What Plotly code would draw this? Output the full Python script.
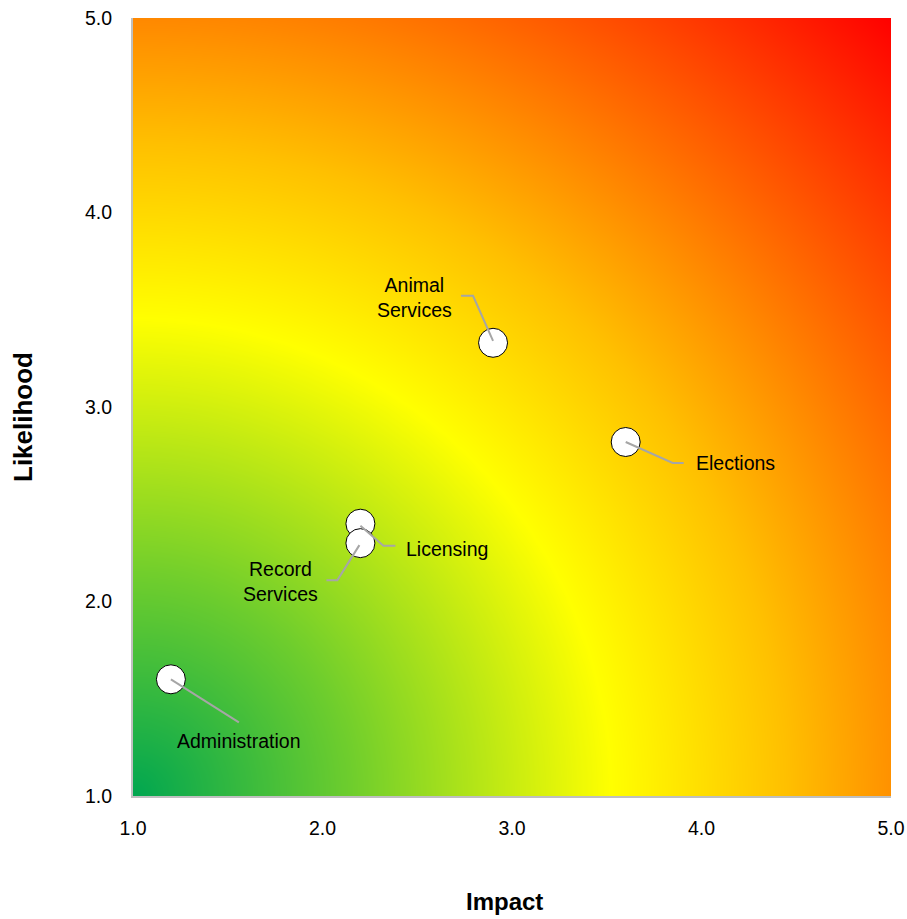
import numpy as np
import plotly.graph_objects as go

# ---- data ----
units = ["Administration", "Animal Services", "Elections", "Licensing", "Record Services"]
impact = [1.2, 2.9, 3.6, 2.2, 2.2]
likelihood = [1.6, 3.33, 2.82, 2.4, 2.3]
label_text = ["Administration", "Animal<br>Services", "Elections", "Licensing", "Record<br>Services"]
x_ticks = [1.0, 2.0, 3.0, 4.0, 5.0]
y_ticks = [1.0, 2.0, 3.0, 4.0, 5.0]

# ---- style: leader-line paths and label offsets in screen pixels (y down) ----
leader_paths = [
    [(0, 0), (68, 43)],
    [(0, -2), (-20, -47), (-32, -47)],
    [(0, 0), (47, 21), (58, 21)],
    [(0, 2), (23, 22), (35, 22)],
    [(-1, 2), (-23, 37), (-34, 37)],
]
label_offsets = [(68, 62, "center"), (-79, -45, "center"), (68, 21, "left"), (44, 25, "left"), (-80, 38, "center")]

W, H = 907, 919
ML, MR, MT, MB = 133, 16, 18, 123
PW, PH = W - ML - MR, H - MT - MB
XR, YR = (1.0, 5.0), (1.0, 5.0)
px_x = PW / (XR[1] - XR[0])
px_y = PH / (YR[1] - YR[0])

FONT = "Liberation Sans, Arial, sans-serif"

# background radial gradient (pixel-space distance from bottom-left corner)
gx = np.linspace(XR[0], XR[1], 241)
gy = np.linspace(YR[0], YR[1], 241)
GX, GY = np.meshgrid(gx, gy)
dist = np.sqrt(((GX - XR[0]) * px_x) ** 2 + ((GY - YR[0]) * px_y) ** 2)
dist = dist / dist.max()

colorscale = [
    [0.0, "rgb(0,166,80)"],
    [0.2, "rgb(110,205,45)"],
    [0.44, "rgb(255,255,0)"],
    [0.6, "rgb(255,192,0)"],
    [1.0, "rgb(255,0,0)"],
]

fig = go.Figure()
fig.add_trace(go.Heatmap(x=gx, y=gy, z=dist, colorscale=colorscale, zmin=0, zmax=1,
                         zsmooth="best", showscale=False, hoverinfo="skip"))

fig.add_trace(go.Scatter(x=impact, y=likelihood, mode="markers", text=units,
                         marker=dict(size=29, color="white", line=dict(color="black", width=1)),
                         hovertemplate="%{text}<br>Impact %{x}<br>Likelihood %{y}<extra></extra>",
                         showlegend=False))

for xi, yi, path in zip(impact, likelihood, leader_paths):
    lx = [xi + dx / px_x for dx, dy in path]
    ly = [yi - dy / px_y for dx, dy in path]
    fig.add_trace(go.Scatter(x=lx, y=ly, mode="lines", line=dict(color="#a6a6a6", width=2),
                             hoverinfo="skip", showlegend=False))

for xi, yi, txt, (ox, oy, anchor) in zip(impact, likelihood, label_text, label_offsets):
    fig.add_annotation(x=xi, y=yi, text=txt, showarrow=False, xshift=ox, yshift=-oy,
                       xanchor=anchor, yanchor="middle", align="center",
                       font=dict(family=FONT, size=19.5, color="black"))

fig.add_annotation(xref="paper", yref="paper", x=(504 - ML) / PW, y=-(901 - (MT + PH)) / PH,
                   text="<b>Impact</b>", showarrow=False, xanchor="center", yanchor="middle",
                   font=dict(family=FONT, size=24, color="black"))
fig.add_annotation(xref="paper", yref="paper", x=(23 - ML) / PW, y=((MT + PH) - 417) / PH,
                   text="<b>Likelihood</b>", showarrow=False, textangle=-90,
                   xanchor="center", yanchor="middle",
                   font=dict(family=FONT, size=26, color="black"))

axis_common = dict(showgrid=False, zeroline=False, showline=True, linecolor="#bfbfbf",
                   linewidth=2, ticks="", tickformat=".1f", automargin=False,
                   ticklabeloverflow="allow",
                   tickfont=dict(family=FONT, size=19.5, color="black"))
fig.update_xaxes(range=list(XR), tickvals=x_ticks, ticklabelstandoff=14, **axis_common)
fig.update_yaxes(range=list(YR), tickvals=y_ticks, ticklabelstandoff=15, **axis_common)

fig.update_layout(width=W, height=H, margin=dict(l=ML, r=MR, t=MT, b=MB, autoexpand=False),
                  paper_bgcolor="white", plot_bgcolor="white", showlegend=False)

fig.write_html("out.html", config={"displayModeBar": False},
               post_script="document.body.style.margin='0';")
